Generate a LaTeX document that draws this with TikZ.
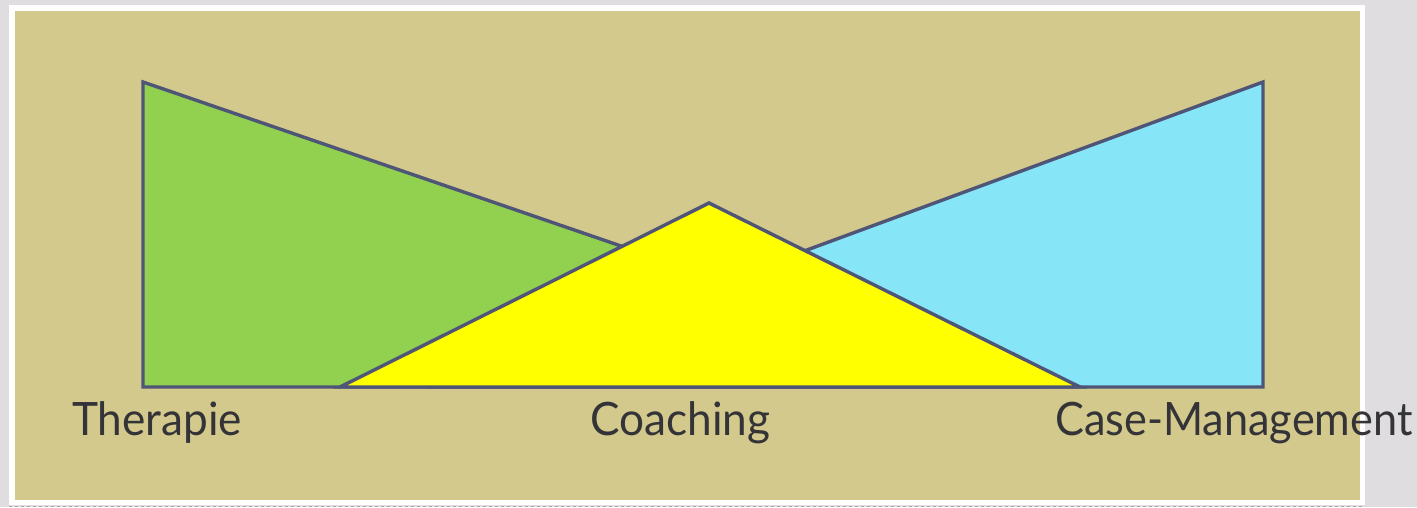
\documentclass[tikz,border=0pt]{standalone}
\usepackage{fontspec}
\usepackage{graphicx}
\setmainfont{Lato}
\definecolor{pagegray}{HTML}{DFDDE0}
\definecolor{khaki}{HTML}{D3C98C}
\definecolor{edge}{HTML}{4E5577}
\definecolor{tgreen}{HTML}{92D050}
\definecolor{tcyan}{HTML}{87E5F8}
\definecolor{tyellow}{HTML}{FFFF00}
\definecolor{ink}{HTML}{333338}
\newcommand{\lblfont}[2][0.96]{\scalebox{#1}[1]{\fontsize{46}{50}\selectfont #2}}
\tikzset{
  tri/.style={draw=edge, line width=3.4pt, line join=miter},
  lbl/.style={anchor=base west, inner sep=0pt, text=ink}
}
\begin{document}
\begin{tikzpicture}[x=1pt,y=-1pt]
\useasboundingbox (0,0) rectangle (1417,507);
\fill[pagegray] (0,0) rectangle (1417,507);
\fill[white] (9,5) rectangle (1365,505);
\fill[khaki] (15,11) rectangle (1360,500);
\draw[gray!70, dashed, line width=0.8pt] (9,506) -- (1365,506);
% triangles
\path[tri, fill=tgreen] (143,82) -- (143,387) -- (1032,387) -- cycle;
\path[tri, fill=tcyan] (1263,82) -- (1263,387) -- (435,387) -- cycle;
\path[tri, fill=tyellow] (340,387) -- (709,203) -- (1080,387) -- cycle;
% labels
\node[lbl] (t) at (72,435) {\lblfont{Therapie}};
\node[lbl] (c) at (590,435) {\lblfont{Coaching}};
\node[lbl] (m) at (1055,435) {\lblfont[0.94]{Case-Management}};
\end{tikzpicture}
\end{document}
